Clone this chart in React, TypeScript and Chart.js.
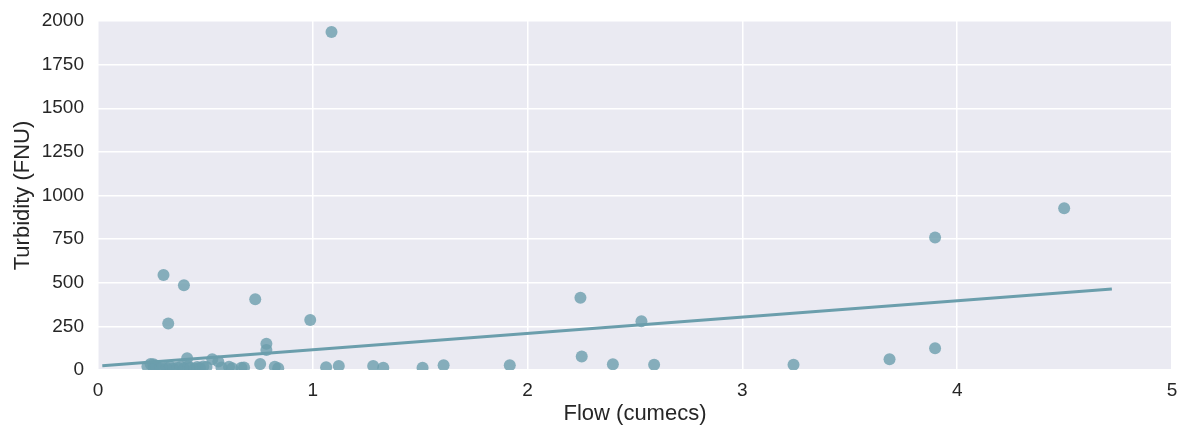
import React, { useEffect, useRef } from "react";
import { Chart, registerables } from "chart.js";

Chart.register(...registerables);

const flow: number[] = [
  1.087, 4.498, 3.897, 0.305, 0.40, 0.732, 0.327, 0.988, 2.246, 2.530,
  0.784, 0.784, 0.755, 0.823, 0.839, 1.062, 0.415, 0.532, 0.56,
  1.121, 1.281, 1.328, 1.511, 1.609, 1.917, 2.252, 2.397, 2.589, 3.238, 3.685, 3.897,
  0.23, 0.245, 0.258, 0.26, 0.27, 0.29, 0.30, 0.32, 0.335, 0.35, 0.37, 0.385,
  0.40, 0.42, 0.43, 0.45, 0.462, 0.475, 0.49, 0.505, 0.575, 0.61, 0.625, 0.668, 0.68,
];
const turbidity: number[] = [
  1937, 927, 759, 544, 485, 406, 266, 287, 414, 280,
  151, 115, 34, 19, 10, 16, 67, 61, 48,
  23, 23, 13, 13, 27, 27, 77, 33, 30, 30, 61, 125,
  20, 35, 33, 10, 25, 8, 15, 12, 20, 8, 14, 18,
  10, 22, 12, 8, 17, 12, 20, 17, 14, 19, 10, 13, 15,
];
const fitX: number[] = [0.02, 4.72];
const fitY: number[] = [24, 464];
const xTicks: number[] = [0, 1, 2, 3, 4, 5];
const yTicks: number[] = [0, 250, 500, 750, 1000, 1250, 1500, 1750, 2000];

const BASE = "rgb(107,158,172)";
const POINT = "rgba(107,158,172,0.8)";
const TEXT = "#262626";
const FONT = "'Liberation Sans', Arial, sans-serif";

const bgPlugin = {
  id: "bgPlugin",
  beforeDraw(chart: any) {
    const { ctx, chartArea } = chart;
    if (!chartArea) return;
    ctx.save();
    ctx.fillStyle = "#EAEAF2";
    ctx.fillRect(chartArea.left, chartArea.top, chartArea.right - chartArea.left, chartArea.bottom - chartArea.top);
    ctx.restore();
  },
};

export default function App() {
  const ref = useRef<HTMLCanvasElement | null>(null);
  useEffect(() => {
    if (!ref.current) return;
    const points = flow.map((x, i) => ({ x, y: turbidity[i] }));
    const fit = fitX.map((x, i) => ({ x, y: fitY[i] }));
    const chart = new Chart(ref.current, {
      type: "scatter",
      data: {
        datasets: [
          {
            type: "line",
            data: fit,
            borderColor: BASE,
            borderWidth: 3,
            pointRadius: 0,
            fill: false,
          } as any,
          {
            type: "scatter",
            data: points,
            backgroundColor: POINT,
            borderWidth: 0,
            pointRadius: 6,
          } as any,
        ],
      },
      options: {
        responsive: false,
        animation: false,
        devicePixelRatio: 1,
        layout: { padding: { top: 21, right: 9, left: 0, bottom: 0 } },
        plugins: { legend: { display: false }, tooltip: { enabled: false } },
        scales: {
          x: {
            type: "linear",
            min: 0,
            max: 5,
            afterBuildTicks: (s: any) => {
              s.ticks = xTicks.map((v) => ({ value: v }));
            },
            afterFit: (s: any) => {
              s.height = 55;
              s.paddingLeft = 0;
              s.paddingRight = 0;
            },
            ticks: {
              font: { family: FONT, size: 19 },
              color: TEXT,
              padding: 9,
              callback: (v: any) => String(v),
            },
            grid: { color: "#ffffff", lineWidth: 1.5, drawTicks: false },
            border: { display: false },
            title: {
              display: true,
              text: "Flow (cumecs)",
              font: { family: FONT, size: 22, lineHeight: 1 },
              color: TEXT,
              padding: 0,
            },
          },
          y: {
            type: "linear",
            min: 0,
            max: 2000,
            afterBuildTicks: (s: any) => {
              s.ticks = yTicks.map((v) => ({ value: v }));
            },
            afterFit: (s: any) => {
              s.width = 98;
              s.paddingTop = 0;
              s.paddingBottom = 0;
            },
            ticks: {
              font: { family: FONT, size: 19 },
              color: TEXT,
              padding: 14,
              callback: (v: any) => String(v),
            },
            grid: { color: "#ffffff", lineWidth: 1.5, drawTicks: false },
            border: { display: false },
            title: {
              display: true,
              text: "Turbidity (FNU)",
              font: { family: FONT, size: 22, lineHeight: 1 },
              color: TEXT,
              padding: { top: 12, bottom: 0 },
            },
          },
        },
      },
      plugins: [bgPlugin],
    });
    return () => chart.destroy();
  }, []);
  return (
    <div style={{ position: "fixed", left: 0, top: 0, width: 1181, height: 425, background: "#fff" }}>
      <canvas ref={ref} width={1181} height={425} />
    </div>
  );
}
